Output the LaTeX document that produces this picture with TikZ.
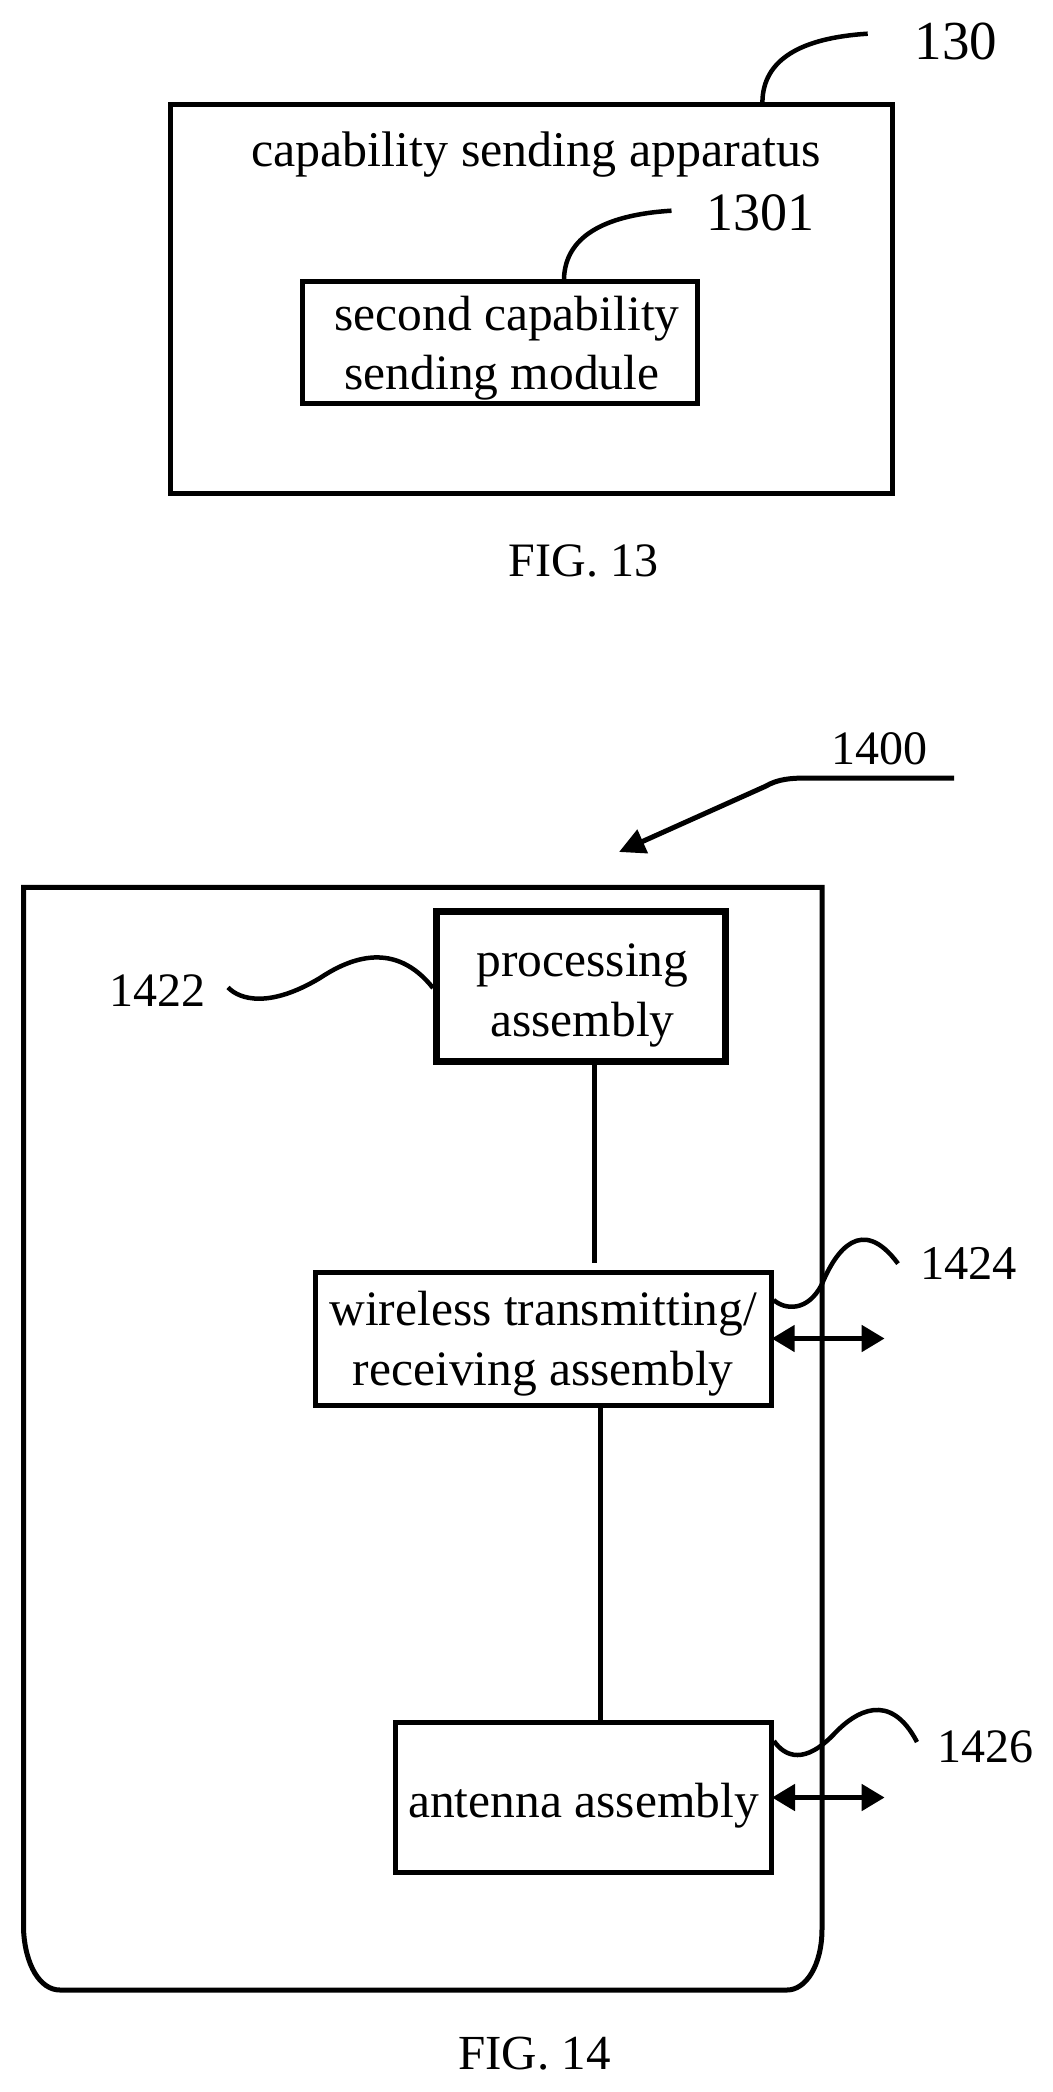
\documentclass[tikz,border=0pt]{standalone}
\usepackage{fontspec}
\setmainfont{Liberation Serif}
\usetikzlibrary{arrows.meta}
\newcommand{\fs}[2]{\fontsize{#1pt}{#2pt}\selectfont}
\newcommand{\tallstrut}[1]{\rule{0pt}{#1pt}}
\newcommand{\deepstrut}[1]{\rule[-#1pt]{0pt}{0pt}}
\tikzset{
  box/.style={draw=black,line width=5pt,inner sep=0pt,align=center,font=\fs{49.5}{60}},
  heavybox/.style={box,line width=7pt},
  lbl/.style={inner sep=0pt,anchor=base},
  leader/.style={draw=black,line width=4.5pt},
  link/.style={draw=black,line width=5pt},
  bidir/.style={draw=black,line width=5pt,{Triangle[length=23pt,width=26pt]}-{Triangle[length=23pt,width=26pt]}},
  pointer/.style={draw=black,line width=5pt,-{Triangle[length=26pt,width=25pt]}},
  shell/.style={draw=black,line width=5pt}
}
\begin{document}
\begin{tikzpicture}[x=1pt,y=-1pt]
\useasboundingbox (0,0) rectangle (1052,2092);
% FIG. 13
\node[box,minimum width=722pt,minimum height=389pt] (outer) at (531.6,299) {};
\node[lbl,font=\fs{50}{60}] (title) at (536,167) {capability sending apparatus};
\node[box,minimum width=395pt,minimum height=121.5pt,font=\fs{49.5}{59}] (inner) at (499.5,342.3)
  {\tallstrut{46}\hspace*{15pt}second capability\\\hspace*{5pt}sending module\deepstrut{11}};
\coordinate (e130) at (867.7,33.7);
\coordinate (e1301) at (671.5,210.7);
\draw[leader] ([xshift=230.8pt]outer.north) .. controls (763,60) and (800,38) .. (e130);
\draw[leader] ([xshift=64.5pt]inner.north) .. controls (565,238) and (602,215) .. (e1301);
\node[lbl,font=\fs{55}{60}] (n130) at (956,60) {130};
\node[lbl,font=\fs{54}{60}] (n1301) at (760,231) {1301};
\node[lbl,font=\fs{48}{60}] (fig13) at (583.5,576) {FIG. 13};
% FIG. 14
\draw[shell] (23.5,887.4) -- (23.5,1929) .. controls (25,1965) and (40,1990) .. (60,1990)
  -- (787,1990) .. controls (806,1990) and (822,1965) .. (822,1929) -- (822,887.4) -- cycle;
\node[heavybox,minimum width=289pt,minimum height=150pt] (proc) at (581,986.5)
  {\tallstrut{50.6}\hspace*{3pt}processing\\[-0.6pt]\hspace*{3pt}assembly\deepstrut{11}};
\node[box,minimum width=456pt,minimum height=133pt] (wire) at (543.2,1338.5)
  {\tallstrut{44.6}wireless transmitting/\\[-0.6pt]receiving assembly\deepstrut{11}};
\node[box,minimum width=376pt,minimum height=149.5pt] (ant) at (583.5,1797.5)
  {\tallstrut{50}antenna assembly\deepstrut{11}};
\draw[link] ([xshift=13pt]proc.south) -- ([xshift=50.8pt,yshift=7pt]wire.north);
\draw[link] ([xshift=56.8pt]wire.south) -- ([xshift=16.5pt]ant.north);
\coordinate (a1) at (884.6,1338.5);
\coordinate (a2) at (884.6,1797.5);
\draw[bidir] ([xshift=-2pt]wire.east) -- (a1);
\draw[bidir] ([xshift=-2pt]ant.east) -- (a2);
\coordinate (s1400) at (954,778);
\coordinate (tip1400) at (619,852);
\draw[pointer] (s1400) -- (809,778) .. controls (790,778) and (778,779) .. (765,786.5) -- (tip1400);
\coordinate (e1422) at (228,987.4);
\coordinate (e1424) at (898,1263.6);
\coordinate (e1426) at (917,1742);
\draw[leader] (e1422) .. controls (240,1000) and (270,1008) .. (320,978)
  .. controls (350,958) and (395,940) .. ([yshift=-1.5pt]proc.west);
\draw[leader] ([yshift=38.5pt]wire.east) .. controls (785,1310) and (808,1312) .. (822,1284)
  .. controls (836,1250) and (862,1215) .. (e1424);
\draw[leader] ([yshift=56.5pt]ant.east) .. controls (785,1757) and (805,1765) .. (835,1733)
  .. controls (855,1712) and (890,1690) .. (e1426);
\node[lbl,font=\fs{48}{60}] (n1400) at (879.5,764.5) {1400};
\node[lbl,font=\fs{48}{60}] (n1422) at (157,1006.7) {1422};
\node[lbl,font=\fs{48.5}{60}] (n1424) at (968.5,1279) {1424};
\node[lbl,font=\fs{48}{60}] (n1426) at (985,1762.6) {1426};
\node[lbl,font=\fs{49}{60}] (fig14) at (534.5,2069.6) {FIG. 14};
\end{tikzpicture}
\end{document}
